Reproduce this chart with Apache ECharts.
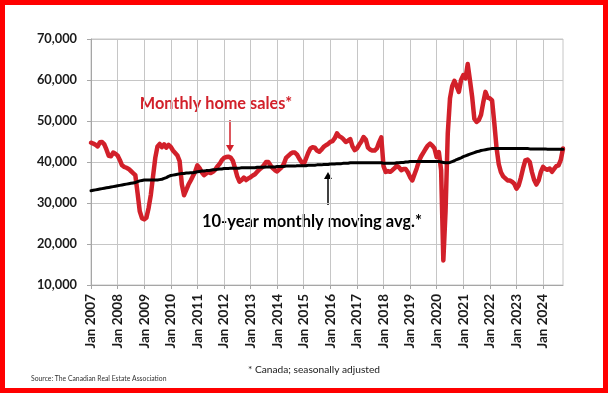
<!DOCTYPE html>
<html>
<head>
<meta charset="utf-8">
<script src="https://cdn.jsdelivr.net/npm/echarts@6/dist/echarts.min.js"></script>
<style>
html,body{margin:0;padding:0;background:#fff;}
#c{width:608px;height:393px;}
</style>
</head>
<body>
<div id="c"></div>
<script>
// Month names and years used to build the category labels (Jan 2007 .. Oct 2024)
const monthNames = ['Jan','Feb','Mar','Apr','May','Jun','Jul','Aug','Sep','Oct','Nov','Dec'];
const firstYear = 2007;
const lastYear = 2024;
const lastMonthIndex = 9; // Oct 2024

// Monthly home sales, Canada, seasonally adjusted (one row per year)
const monthlySales = [
  44700, 44500, 44200, 43800, 44800, 44900, 44300, 43000, 41500, 41400, 42300, 42000, // 2007
  41600, 40500, 39200, 38800, 38600, 38300, 37800, 37300, 36800, 32500, 28000, 26300, // 2008
  26000, 26400, 28800, 32000, 36500, 41000, 43800, 44400, 43600, 44300, 43500, 44200, // 2009
  43700, 42800, 42200, 41600, 40200, 34500, 31900, 33200, 34500, 35500, 36600, 37600, // 2010
  39200, 38500, 37500, 36800, 37200, 37700, 37300, 37600, 38100, 38900, 39500, 40400, // 2011
  41000, 41200, 41300, 41100, 40300, 38500, 36500, 35200, 35600, 36200, 35600, 36000, // 2012
  36300, 36700, 37000, 37600, 38200, 38600, 39200, 40000, 40000, 39200, 38500, 38000, // 2013
  37700, 38200, 38700, 39500, 41000, 41500, 42000, 42300, 42300, 41800, 40800, 40000, // 2014
  39400, 40800, 42200, 43300, 43600, 43500, 42800, 42500, 43000, 43700, 44100, 44400, // 2015
  44900, 45100, 45800, 47000, 46300, 46000, 45500, 44900, 45200, 45600, 43800, 42900, // 2016
  43300, 44200, 45000, 46100, 45500, 43500, 43000, 42800, 42800, 43300, 44800, 46000, // 2017
  39000, 37600, 37800, 37600, 38000, 38500, 39100, 38700, 38000, 38300, 38300, 37500, // 2018
  36300, 35500, 37000, 38500, 40200, 41400, 42300, 43200, 44000, 44500, 44000, 43300, // 2019
  41200, 42400, 38000, 16000, 28000, 47000, 55500, 58500, 59800, 58500, 57100, 60000, // 2020
  61200, 60400, 63900, 60000, 55900, 50500, 49800, 50200, 51500, 54500, 57100, 55700, // 2021
  55500, 55000, 49500, 43500, 39500, 37500, 36500, 36000, 35500, 35500, 35200, 34700, // 2022
  33500, 34300, 36200, 38500, 40400, 40600, 40000, 37500, 35600, 34500, 35500, 37600, // 2023
  38800, 38300, 38100, 38400, 37600, 38300, 39000, 39200, 40500, 43300              // 2024
];

// 10-year monthly moving average (one row per year)
const movingAverage = [
  33000, 33100, 33200, 33300, 33400, 33500, 33600, 33700, 33800, 33900, 34000, 34100, // 2007
  34200, 34300, 34400, 34500, 34600, 34700, 34800, 34900, 35000, 35200, 35400, 35500, // 2008
  35600, 35600, 35600, 35600, 35600, 35600, 35600, 35700, 35800, 36000, 36200, 36500, // 2009
  36700, 36800, 36900, 37000, 37100, 37200, 37200, 37300, 37300, 37400, 37400, 37500, // 2010
  37600, 37700, 37800, 37800, 37900, 37900, 38000, 38100, 38100, 38200, 38300, 38300, // 2011
  38400, 38400, 38400, 38500, 38500, 38500, 38500, 38500, 38600, 38600, 38600, 38600, // 2012
  38600, 38600, 38600, 38700, 38700, 38700, 38700, 38800, 38800, 38800, 38800, 38800, // 2013
  38900, 38900, 38900, 38900, 39000, 39000, 39000, 39000, 39000, 39100, 39100, 39100, // 2014
  39100, 39100, 39200, 39200, 39200, 39200, 39300, 39300, 39300, 39400, 39400, 39400, // 2015
  39500, 39500, 39500, 39600, 39600, 39600, 39700, 39700, 39700, 39800, 39800, 39800, // 2016
  39800, 39800, 39800, 39800, 39800, 39800, 39800, 39800, 39800, 39800, 39800, 39800, // 2017
  39700, 39700, 39700, 39700, 39700, 39700, 39800, 39800, 39900, 39900, 40000, 40000, // 2018
  40100, 40100, 40100, 40100, 40100, 40100, 40100, 40100, 40100, 40100, 40100, 40100, // 2019
  40100, 40100, 40000, 39900, 39800, 39800, 39900, 40100, 40300, 40600, 40800, 41000, // 2020
  41300, 41500, 41700, 41900, 42100, 42300, 42500, 42600, 42800, 42900, 43000, 43100, // 2021
  43200, 43300, 43300, 43300, 43300, 43300, 43300, 43300, 43300, 43300, 43300, 43300, // 2022
  43300, 43300, 43300, 43300, 43300, 43300, 43200, 43200, 43200, 43200, 43200, 43200, // 2023
  43200, 43200, 43100, 43100, 43100, 43100, 43100, 43100, 43100, 43100              // 2024
];

// Y axis ticks
const yMin = 10000;
const yMax = 70000;
const yStep = 10000;

// Text
const salesLabel = 'Monthly home sales*';
const avgLabel = '10-year monthly moving avg.*';
const footnote = '* Canada; seasonally adjusted';
const sourceNote = 'Source: The Canadian Real Estate Association';

const categories = [];
for (let y = firstYear; y <= lastYear; y++) {
  for (let m = 0; m < 12; m++) {
    if (y === lastYear && m > lastMonthIndex) break;
    categories.push(monthNames[m] + ' ' + y);
  }
}

const RED = '#d2202a';
const GRID = '#c6c6c6';
const AXIS = '#a6a6a6';

const chart = echarts.init(document.getElementById('c'), null, {renderer: 'canvas'});
chart.setOption({
  animation: false,
  backgroundColor: '#ffffff',
  grid: {
    left: 91, right: 45, top: 39, bottom: 108,
    show: true, borderColor: GRID, borderWidth: 1, backgroundColor: 'transparent'
  },
  xAxis: {
    type: 'category',
    data: categories,
    boundaryGap: false,
    axisLine: {lineStyle: {color: AXIS, width: 1}},
    axisTick: {show: true, interval: 11, length: 4, lineStyle: {color: AXIS}},
    axisLabel: {
      interval: 11, rotate: 90, margin: 9,
      fontFamily: 'Lato', fontWeight: 'bold', fontSize: 13.5, color: '#1a1a1a'
    },
    splitLine: {show: true, interval: 11, lineStyle: {color: GRID, width: 1}}
  },
  yAxis: {
    type: 'value',
    min: yMin, max: yMax, interval: yStep,
    axisLine: {show: true, lineStyle: {color: AXIS, width: 1}},
    axisTick: {show: true, length: 4, lineStyle: {color: AXIS}},
    axisLabel: {
      margin: 14,
      fontFamily: 'Lato', fontWeight: 'bold', fontSize: 12.8, color: '#1a1a1a',
      formatter: v => v.toLocaleString('en-US')
    },
    splitLine: {show: true, lineStyle: {color: GRID, width: 1}}
  },
  series: [
    {
      type: 'line', name: salesLabel, data: monthlySales,
      showSymbol: false, symbol: 'none',
      lineStyle: {color: RED, width: 4.5, join: 'round', cap: 'round'},
      itemStyle: {color: RED}, z: 2
    },
    {
      type: 'line', name: avgLabel, data: movingAverage,
      showSymbol: false, symbol: 'none',
      lineStyle: {color: '#000000', width: 3, join: 'round', cap: 'round'},
      itemStyle: {color: '#000000'}, z: 3
    }
  ],
  graphic: [
    {type: 'rect', shape: {x: 2.5, y: 2.5, width: 603, height: 388},
     style: {fill: 'none', stroke: '#ff0000', lineWidth: 5}, z: 100},
    {type: 'text', x: 216, y: 104,
     style: {text: salesLabel, font: 'bold 16.3px Lato', fill: RED,
             align: 'center', verticalAlign: 'middle', textAlign: 'center', textVerticalAlign: 'middle'}},
    {type: 'line', shape: {x1: 230, y1: 120, x2: 230, y2: 146},
     style: {stroke: RED, lineWidth: 1.5}},
    {type: 'polygon', shape: {points: [[226, 145], [234, 145], [230, 152]]},
     style: {fill: RED}},
    {type: 'text', x: 312, y: 222,
     style: {text: avgLabel, font: 'bold 16.5px Lato', fill: '#000',
             align: 'center', verticalAlign: 'middle', textAlign: 'center', textVerticalAlign: 'middle'}},
    {type: 'line', shape: {x1: 328, y1: 205, x2: 328, y2: 178},
     style: {stroke: '#000', lineWidth: 1.5}},
    {type: 'polygon', shape: {points: [[324, 179], [332, 179], [328, 172]]},
     style: {fill: '#000'}},
    {type: 'text', x: 314, y: 370,
     style: {text: footnote, font: '10.2px Lato', fill: '#1a1a1a',
             align: 'center', verticalAlign: 'middle', textAlign: 'center', textVerticalAlign: 'middle'}},
    {type: 'text', x: 31, y: 379,
     style: {text: sourceNote, font: '6.8px Lato', fill: '#333',
             align: 'left', verticalAlign: 'middle', textAlign: 'left', textVerticalAlign: 'middle'}}
  ]
});
</script>
</body>
</html>
